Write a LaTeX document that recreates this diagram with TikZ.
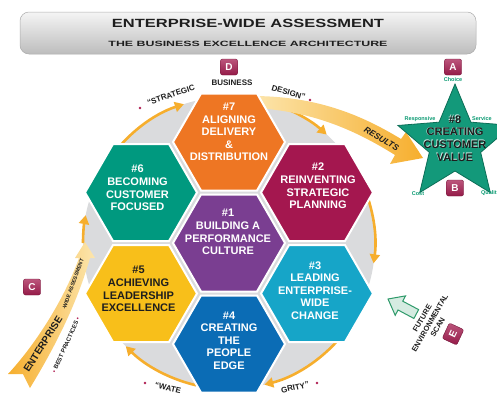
\documentclass[tikz,border=0pt]{standalone}
\usepackage{fontspec}
\setmainfont{Liberation Sans}
\usepackage{graphicx}
\usetikzlibrary{arrows.meta,calc}
\definecolor{cOrange}{HTML}{EE7623}
\definecolor{cCrimson}{HTML}{A4174F}
\definecolor{cCyan}{HTML}{16A5C8}
\definecolor{cBlue}{HTML}{0B6CB5}
\definecolor{cYellow}{HTML}{F8BF1A}
\definecolor{cGreen}{HTML}{00997F}
\definecolor{cPurple}{HTML}{7A3E91}
\definecolor{cStar}{HTML}{13997A}
\definecolor{cStarEdge}{HTML}{0C6E57}
\definecolor{cDisc}{HTML}{DADBDD}
\definecolor{cRing}{HTML}{F6AE2D}
\definecolor{cPale}{HTML}{FCE6AE}
\definecolor{cBox}{HTML}{A51D50}
\definecolor{cDot}{HTML}{B01E52}
\definecolor{cLabelGreen}{HTML}{0B9A72}
\definecolor{cArrowGreen}{HTML}{2E9A6A}
\definecolor{cDark}{HTML}{1E1E1E}
\newcommand\hexagonpath[1]{([shift={(56,0)}]#1) -- ++(120:56) -- ++(180:56) -- ++(240:56) -- ++(300:56) -- ++(0:56) -- cycle}
\begin{document}
\begin{tikzpicture}[x=1pt,y=1pt,
  hexfill/.style={fill=#1, draw=white, line width=2pt},
  hextext/.style={text=white, font=\bfseries\fontsize{11}{12.6}\selectfont, align=center, inner sep=0pt},
  ring/.style={draw=cRing, line width=2.6pt, -{Triangle[length=9pt,width=10pt]}},
  lbox/.style={rounded corners=2pt, top color=cBox!75!white, bottom color=cBox!90!black, draw=cBox!70!black, line width=0.4pt, text=white, font=\bfseries\fontsize{10}{10}\selectfont, minimum width=17pt, minimum height=16pt, inner sep=0pt},
  arclabel/.style={font=\bfseries\fontsize{8}{8}\selectfont, text=cDark, inner sep=0pt},
  starlabel/.style={font=\bfseries\fontsize{5.5}{5.5}\selectfont, text=cLabelGreen, inner sep=0pt},
  dotmark/.style={fill=cDot}]
\useasboundingbox (0,0) rectangle (497,-394);
\clip (0,0) rectangle (497,-394);

% title bar
\shadedraw[top color=gray!8, bottom color=gray!52, draw=gray!65, line width=0.5pt, rounded corners=9pt] (20,-12) rectangle (476,-54);
\node[inner sep=0pt, text=cDark] (title) at (248,-23.2) {\resizebox{272pt}{8.3pt}{\bfseries ENTERPRISE-WIDE ASSESSMENT}};
\node[inner sep=0pt, text=cDark] (subtitle) at (248,-44.3) {\resizebox{279pt}{5.3pt}{\bfseries THE BUSINESS EXCELLENCE ARCHITECTURE}};

% disc
\coordinate (C) at (229,-243);
\fill[cDisc] (C) circle[radius=146];

% ring arrows
\draw[ring] ([shift={(145:146)}]C) arc[start angle=145, end angle=108, radius=146];
\draw[ring] ([shift={(180:146)}]C) arc[start angle=180, end angle=169, radius=146];
\draw[ring] ([shift={(72:146)}]C) arc[start angle=72, end angle=48, radius=146];
\draw[ring] ([shift={(24:146)}]C) arc[start angle=24, end angle=-8, radius=146];
\draw[ring] ([shift={(-40:146)}]C) arc[start angle=-40, end angle=-76, radius=146];
\draw[ring] ([shift={(-103:146)}]C) arc[start angle=-103, end angle=-135, radius=146];

% RESULTS band
\shade[left color=cPale, right color=cRing] (252,-96) .. controls (315,-96) and (360,-114) .. (401,-139) -- (406,-132) -- (423,-158) -- (390,-164) -- (395,-155) .. controls (355,-130) and (312,-111) .. (254,-108) -- cycle;
\node[font=\bfseries\itshape\fontsize{8.5}{8.5}\selectfont, text=cDark, rotate=-31, inner sep=0pt] (results) at (381.5,-139) {RESULTS};

% left band
\shade[left color=cRing, right color=cPale] (8,-374) .. controls (35,-345) and (64,-300) .. (79,-258) -- (75,-258) -- (85,-242) -- (95,-258) -- (90,-258) .. controls (78,-300) and (58,-342) .. (30,-388) -- (23,-374) -- cycle;
\node[font=\bfseries\fontsize{10}{10}\selectfont, text=cDark, rotate=58, inner sep=0pt] (ent) at (43,-344) {ENTERPRISE};
\node[font=\bfseries\fontsize{5.3}{5.3}\selectfont, text=cDark, rotate=70, inner sep=0pt] (wide) at (73,-284) {-WIDE ASSESSMENT};
\node[font=\bfseries\fontsize{6}{6}\selectfont, text=cDark, rotate=66, inner sep=0pt] (best) at (66,-345) {\textcolor{cDot}{•} BEST PRACTICES \textcolor{cDot}{•}};

% hexagons
\coordinate (h1) at (229,-243);
\coordinate (h7) at (229,-142);
\coordinate (h4) at (229,-344);
\coordinate (h6) at (141,-192.5);
\coordinate (h2) at (317,-192.5);
\coordinate (h5) at (141,-293.5);
\coordinate (h3) at (317,-293.5);
\path[hexfill=cOrange] \hexagonpath{h7};
\path[hexfill=cGreen] \hexagonpath{h6};
\path[hexfill=cCrimson] \hexagonpath{h2};
\path[hexfill=cPurple] \hexagonpath{h1};
\path[hexfill=cYellow] \hexagonpath{h5};
\path[hexfill=cCyan] \hexagonpath{h3};
\path[hexfill=cBlue] \hexagonpath{h4};

\node[hextext] (t7) at (229,-132) {\#7\\ALIGNING\\DELIVERY\\\&\\DISTRIBUTION};
\node[hextext] (t6) at (137.5,-188) {\#6\\BECOMING\\CUSTOMER\\FOCUSED};
\node[hextext] (t2) at (318,-186) {\#2\\REINVENTING\\STRATEGIC\\PLANNING};
\node[hextext] (t1) at (228,-232) {\#1\\BUILDING A\\PERFORMANCE\\CULTURE};
\node[hextext, text=cDark] (t5) at (138.5,-289) {\#5\\ACHIEVING\\LEADERSHIP\\EXCELLENCE};
\node[hextext] (t3) at (315,-290.5) {\#3\\LEADING\\ENTERPRISE-\\WIDE\\CHANGE};
\node[hextext] (t4) at (229,-340.5) {\#4\\CREATING\\THE\\PEOPLE\\EDGE};

% arc labels
\fill[dotmark] (140,-108) circle[radius=1.3];
\node[arclabel, rotate=18] (strat) at (171,-95) {“STRATEGIC};
\node[arclabel] (bus) at (232,-83) {BUSINESS};
\node[arclabel, rotate=-16.5] (design) at (288.5,-92.5) {DESIGN”};
\fill[dotmark] (310,-100) circle[radius=1.3];
\fill[dotmark] (145,-383) circle[radius=1.3];
\node[arclabel, rotate=-13] (water) at (168,-388) {“WATE};
\node[arclabel, rotate=13] (grity) at (295,-387.5) {GRITY”};
\fill[dotmark] (317,-383) circle[radius=1.3];

% star
\filldraw[fill=cStar, draw=cStarEdge, line width=0.8pt, shift={(455,-144)}] (90:60) -- (126:27) -- (162:60) -- (198:27) -- (234:60) -- (270:27) -- (306:60) -- (342:27) -- (18:60) -- (54:27) -- cycle;
\node[hextext, text=white!80!cStar] (t8glow) at (454.4,-137.9) {\#8\\CREATING\\CUSTOMER\\VALUE};
\node[hextext, text=cDark] (t8) at (455,-138.5) {\#8\\CREATING\\CUSTOMER\\VALUE};
\node[starlabel] (choice) at (453,-80) {Choice};
\node[starlabel] (resp) at (420,-119) {Responsive};
\node[starlabel] (serv) at (482,-119) {Service};
\node[starlabel] (cost) at (418,-194) {Cost};
\node[starlabel, anchor=west] (qual) at (481,-193) {Quality};

% letter boxes
\node[lbox] (bD) at (229,-67) {D};
\node[lbox] (bA) at (453,-67) {A};
\node[lbox] (bB) at (455,-188) {B};
\node[lbox] (bC) at (32,-287) {C};
\node[lbox, rotate=65] (bE) at (453,-334) {E};

% future environmental scan
\node[font=\bfseries\fontsize{7.5}{9}\selectfont, text=cDark, rotate=60, align=center, inner sep=0pt] (scan) at (430,-323) {FUTURE\\ENVIRONMENTAL\\SCAN};
\begin{scope}[shift={(388,-299)}, rotate=152]
\filldraw[fill=cArrowGreen!20!white, draw=cArrowGreen, line width=1pt] (0,0) -- (-14,11) -- (-14,5) -- (-32,5) -- (-32,-5) -- (-14,-5) -- (-14,-11) -- cycle;
\end{scope}
\end{tikzpicture}
\end{document}
